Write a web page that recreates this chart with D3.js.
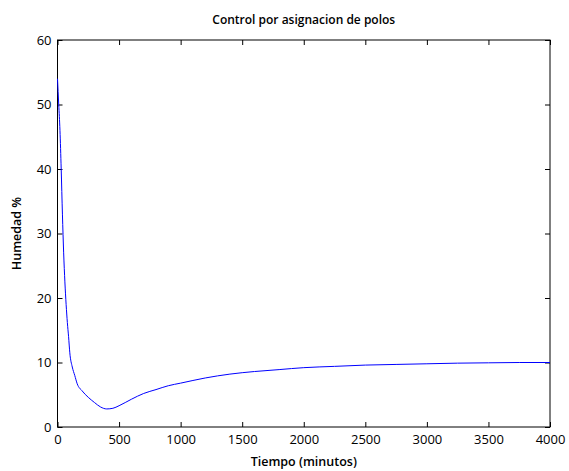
<!DOCTYPE html>
<html>
<head>
<meta charset="utf-8">
<script src="https://cdn.jsdelivr.net/npm/d3@7"></script>
<style>
  body { margin: 0; background: #fff; }
  svg text { font-family: "Open Sans", "DejaVu Sans", sans-serif; fill: #000; }
</style>
</head>
<body>
<div id="chart"></div>
<script>
// data
var tiempo = [0, 5, 10, 20, 30, 40, 50, 60, 70, 80, 90, 100, 120, 140, 160, 200, 250, 300, 350, 400,
  450, 500, 600, 700, 800, 900, 1000, 1200, 1400, 1600, 1800, 2000, 2250, 2500, 2750, 3000, 3250, 3500, 3750, 4000];
var humedad = [54, 52, 50, 46, 40, 33, 27, 22.5, 19, 16.2, 14, 11.5, 9.3, 8, 6.7, 5.6, 4.6, 3.8, 3.1, 2.8,
  2.9, 3.3, 4.3, 5.2, 5.8, 6.4, 6.8, 7.6, 8.2, 8.6, 8.9, 9.2, 9.4, 9.6, 9.7, 9.8, 9.9, 9.95, 10, 10];
var xTicks = [0, 500, 1000, 1500, 2000, 2500, 3000, 3500, 4000];
var yTicks = [0, 10, 20, 30, 40, 50, 60];

var svgWidth = 569, svgHeight = 471;
var margin = { top: 40, right: 19, bottom: 44, left: 57.5 };
var chartWidth = svgWidth - margin.left - margin.right;
var chartHeight = svgHeight - margin.top - margin.bottom;

var svg = d3.select("#chart").append("svg")
  .attr("width", svgWidth)
  .attr("height", svgHeight);

var g = svg.append("g")
  .attr("transform", `translate(${margin.left}, ${margin.top})`);

var x = d3.scaleLinear().domain([0, 4000]).range([0, chartWidth]);
var y = d3.scaleLinear().domain([0, 60]).range([chartHeight, 0]);

// inward ticks on all four sides, like the matlab box
function styleAxis(sel) {
  sel.select(".domain").remove();
  sel.selectAll(".tick line").attr("stroke", "#000");
  sel.selectAll("text").style("font-size", "13px");
}

g.append("g")
  .attr("transform", `translate(0,${chartHeight})`)
  .call(d3.axisBottom(x).tickValues(xTicks).tickFormat(d3.format("d")).tickSizeInner(-5).tickPadding(8))
  .call(styleAxis);

g.append("g")
  .call(d3.axisTop(x).tickValues(xTicks).tickSizeInner(-5).tickFormat(""))
  .call(styleAxis);

g.append("g")
  .call(d3.axisLeft(y).tickValues(yTicks).tickSizeInner(-5).tickPadding(6))
  .call(styleAxis);

g.append("g")
  .attr("transform", `translate(${chartWidth},0)`)
  .call(d3.axisRight(y).tickValues(yTicks).tickSizeInner(-5).tickFormat(""))
  .call(styleAxis);

g.append("rect")
  .attr("x", 0).attr("y", 0)
  .attr("width", chartWidth).attr("height", chartHeight)
  .attr("fill", "none").attr("stroke", "#000").attr("stroke-width", 1);

var line = d3.line()
  .x(function(d, i) { return x(tiempo[i]); })
  .y(function(d) { return y(d); })
  .curve(d3.curveMonotoneX);

g.append("path")
  .datum(humedad)
  .attr("fill", "none")
  .attr("stroke", "#0000ff")
  .attr("stroke-width", 1)
  .attr("d", line);

// title and labels
svg.append("text")
  .attr("x", margin.left + chartWidth / 2)
  .attr("y", 24)
  .attr("text-anchor", "middle")
  .style("font-size", "12px")
  .style("font-weight", "600")
  .text("Control por asignacion de polos");

svg.append("text")
  .attr("x", margin.left + chartWidth / 2)
  .attr("y", 466)
  .attr("text-anchor", "middle")
  .style("font-size", "12.5px")
  .style("font-weight", "600")
  .text("Tiempo (minutos)");

svg.append("text")
  .attr("transform", `translate(21, ${margin.top + chartHeight / 2}) rotate(-90)`)
  .attr("text-anchor", "middle")
  .style("font-size", "12.5px")
  .style("font-weight", "600")
  .text("Humedad %");
</script>
</body>
</html>
